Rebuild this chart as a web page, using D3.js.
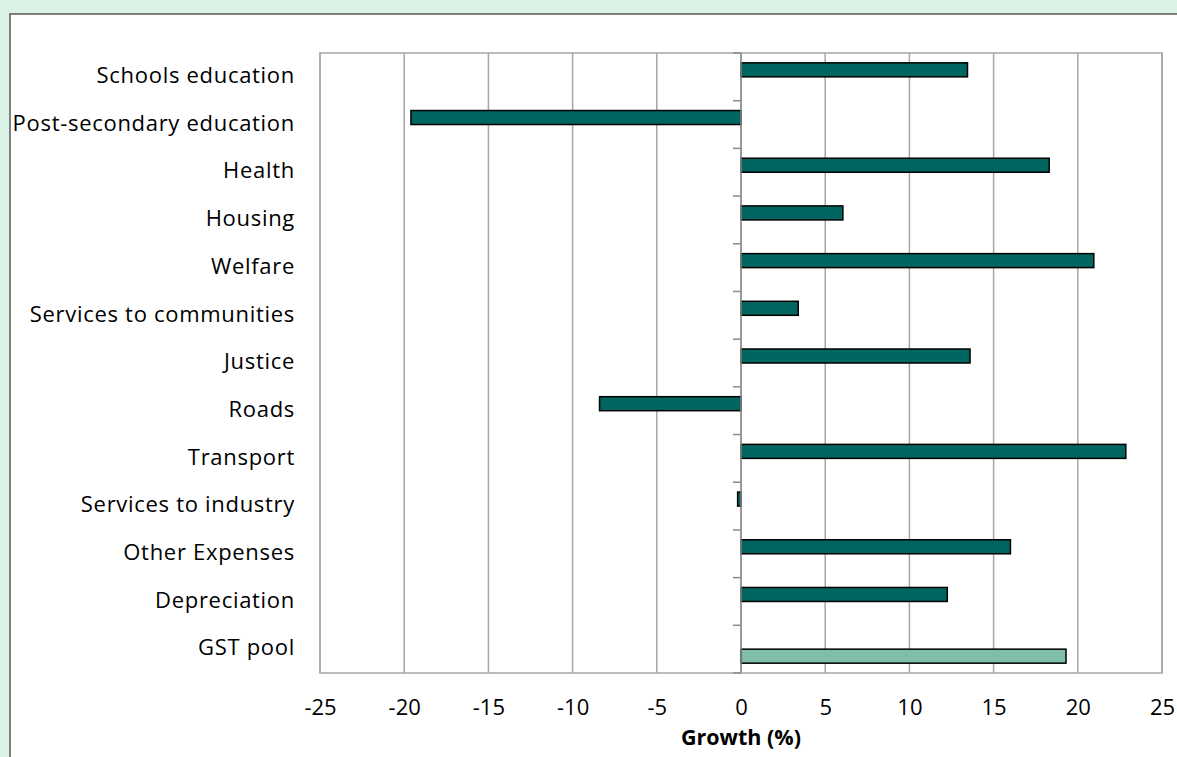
<!DOCTYPE html>
<html><head><meta charset="utf-8">
<script src="https://cdn.jsdelivr.net/npm/d3@7"></script>
<style>
html,body{margin:0;padding:0;background:#dbf2e6;}
svg{display:block;font-family:"Open Sans",sans-serif;}
</style></head>
<body><svg id="c" width="1177" height="757"></svg>
<script>
const categories = ["Schools education","Post-secondary education","Health","Housing","Welfare","Services to communities","Justice","Roads","Transport","Services to industry","Other Expenses","Depreciation","GST pool"];
const expenseGrowth = [13.45, -19.6, 18.3, 6.05, 20.95, 3.4, 13.6, -8.4, 22.85, -0.2, 16.0, 12.25, null];
const gstGrowth = [null, null, null, null, null, null, null, null, null, null, null, null, 19.3];
const xTicks = [-25,-20,-15,-10,-5,0,5,10,15,20,25];
const seriesNames = ["Expenses","GST pool"];
const seriesColors = ["#00665f","#7fbfa8"];

const svg = d3.select("#c");
svg.append("rect").attr("x",10).attr("y",14).attr("width",1177).attr("height",757)
  .attr("fill","#fff").attr("stroke","#595959").attr("stroke-width",1.5);

const L=320,R=1162,T=53,B=673;
const x = d3.scaleLinear().domain([-25,25]).range([L,R]);
const y = d3.scaleBand().domain(categories).range([T,B]);
const bw = y.bandwidth();
const sub = d3.scaleBand().domain(seriesNames).range([bw/2-14,bw/2+14]);

const g = svg.append("g");
g.selectAll("line.grid").data(xTicks).join("line")
  .attr("x1",d=>x(d)).attr("x2",d=>x(d)).attr("y1",T).attr("y2",B)
  .attr("stroke","#a6a6a6").attr("stroke-width",1.5);
g.append("rect").attr("x",L).attr("y",T).attr("width",R-L).attr("height",B-T)
  .attr("fill","none").attr("stroke","#a6a6a6").attr("stroke-width",1.5);

const bounds = categories.map(c=>y(c)).concat([B]);
g.selectAll("line.yt").data(bounds).join("line")
  .attr("x1",x(0)-8).attr("x2",x(0)).attr("y1",d=>d).attr("y2",d=>d)
  .attr("stroke","#8c8c8c").attr("stroke-width",1.5);

const series = [expenseGrowth, gstGrowth];
series.forEach((vals,si)=>{
  g.selectAll("rect.s"+si).data(categories.map((c,i)=>({c,v:vals[i]})).filter(d=>d.v!=null)).join("rect")
    .attr("x",d=>x(Math.min(0,d.v))).attr("width",d=>Math.abs(x(d.v)-x(0)))
    .attr("y",d=>y(d.c)+sub(seriesNames[si])).attr("height",sub.bandwidth())
    .attr("fill",seriesColors[si]).attr("stroke","#000").attr("stroke-width",1.5);
});

g.append("line").attr("x1",x(0)).attr("x2",x(0)).attr("y1",T).attr("y2",B)
  .attr("stroke","#8c8c8c").attr("stroke-width",1.5);

g.selectAll("text.cat").data(categories).join("text")
  .attr("x",295).attr("y",d=>y(d)+bw/2-1).attr("dy","0.33em")
  .attr("text-anchor","end").attr("font-size",22).attr("letter-spacing","0.7px").attr("fill","#000").text(d=>d);

const xa = svg.append("g").attr("transform",`translate(0,${B})`)
  .call(d3.axisBottom(x).tickValues(xTicks).tickSize(0).tickPadding(26).tickFormat(d=>String(d)));
xa.select(".domain").remove();
xa.selectAll("text").attr("font-size",22).attr("font-family","'Open Sans',sans-serif").attr("fill","#000");

svg.append("text").attr("x",x(0)).attr("y",745).attr("text-anchor","middle")
  .attr("font-size",21.5).attr("font-weight","bold").text("Growth (%)");
</script></body></html>
